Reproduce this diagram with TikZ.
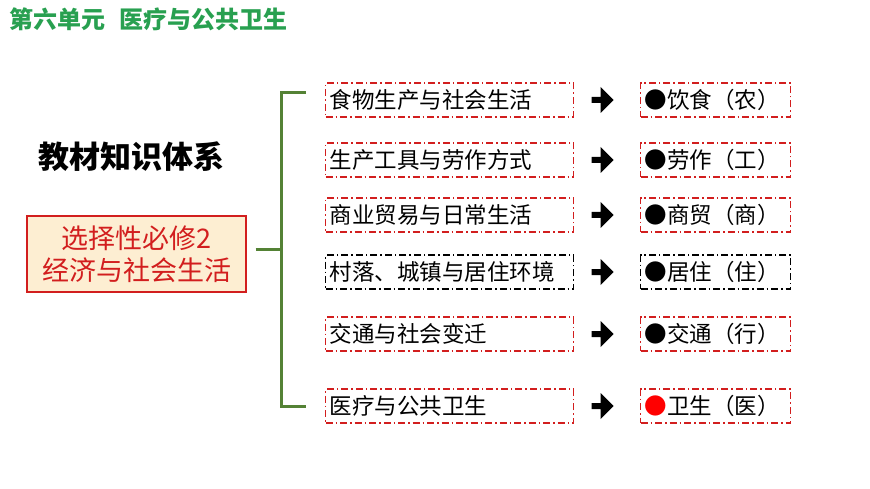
\documentclass[tikz,border=0pt]{standalone}
\usepackage{fontspec}
\setmainfont{Noto Sans CJK SC}
\usetikzlibrary{shapes.arrows}
\definecolor{hdgreen}{RGB}{40,160,80}
\definecolor{brgreen}{RGB}{84,130,53}
\definecolor{boxred}{RGB}{210,30,30}
\definecolor{beige}{RGB}{253,238,210}
\tikzset{
  lbox/.style={draw=boxred, line width=1.3pt, dash pattern=on 7pt off 3pt on 1.5pt off 3pt, minimum height=34pt, anchor=west, inner sep=4pt, font=\fontsize{22.5}{24}\selectfont, text width=#1, align=left},
  arr/.style={single arrow, fill=black, minimum height=22pt, minimum width=26pt, single arrow head extend=4pt, inner sep=1pt},
  br/.style={draw=brgreen, line width=3pt}
}
\begin{document}
\begin{tikzpicture}[x=1pt,y=-1pt]
\useasboundingbox (0,0) rectangle (870,489);
\node[anchor=west, text=hdgreen, font=\fontsize{24}{26}\selectfont\bfseries] (hd) at (6,19) {第六单元\hspace{14pt}医疗与公共卫生};
\node[font=\fontsize{31}{33}\selectfont\bfseries] (tt) at (131,157) {教材知识体系};
\node[draw=boxred, line width=1.3pt, fill=beige, text=boxred, minimum width=219pt, minimum height=76pt, inner sep=2pt, align=center, font=\fontsize{27}{32}\selectfont] (main) at (136.5,254) {选择性必修2\\经济与社会生活};
\coordinate (bt) at (281,93);
\coordinate (bb) at (281,406);
\coordinate (bm) at (281,249);
\draw[br] (306,93) -- (bt) -- (bb) -- (306,406);
\draw[br] (main.east) ++(9,-5) -- (bm);
\foreach \y/\a/\b/\c/\d [count=\i] in {100/食物生产与社会生活/饮食（农）/black/boxred, 160/生产工具与劳作方式/劳作（工）/black/boxred, 215/商业贸易与日常生活/商贸（商）/black/boxred, 272/村落、城镇与居住环境/居住（住）/black/black, 334/交通与社会变迁/交通（行）/black/boxred, 406/医疗与公共卫生/卫生（医）/red/boxred}{
  \node[lbox=240pt, draw=\d] (l\i) at (325,\y) {\a};
  \node[lbox=142pt, draw=\d] (r\i) at (640,\y) {\textcolor{\c}{●}\b};
  \node[arr] (a\i) at (601,\y) {};
}
\end{tikzpicture}
\end{document}
